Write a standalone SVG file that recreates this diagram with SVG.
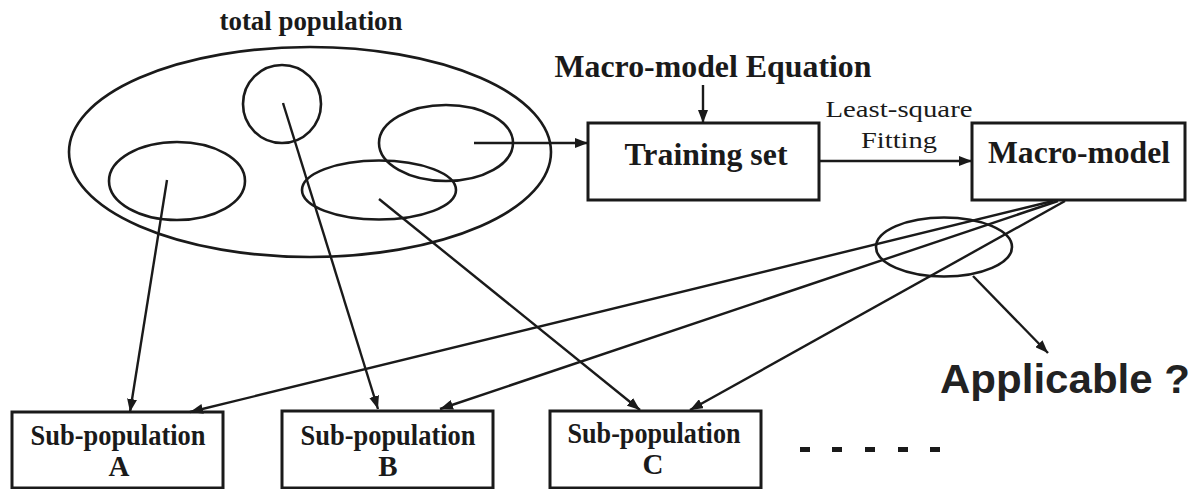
<svg xmlns="http://www.w3.org/2000/svg" width="1199" height="489" viewBox="0 0 1199 489">
<style>
.ser{font-family:"Liberation Serif","Times New Roman",serif;font-weight:bold;fill:#1a1a1a;text-anchor:middle}
.reg{font-family:"Liberation Serif","Times New Roman",serif;fill:#1a1a1a;text-anchor:middle}
.box{fill:#fff;stroke:#1a1a1a;stroke-width:3}
.ell{fill:none;stroke:#1a1a1a;stroke-width:2.6}
.con{fill:none;stroke:#1a1a1a;stroke-width:2.4;marker-end:url(#ah)}
</style>
<defs>
<marker id="ah" markerUnits="userSpaceOnUse" markerWidth="14" markerHeight="10" refX="13" refY="5" orient="auto">
<path d="M0,0 L13,5 L0,10 z" fill="#1a1a1a"/>
</marker>
</defs>
<rect width="1199" height="489" fill="#fff"/>

<g id="population">
<text class="ser" x="311" y="30" font-size="28" textLength="183" lengthAdjust="spacingAndGlyphs">total population</text>
<ellipse class="ell" cx="310" cy="152" rx="241" ry="105"/>
<ellipse class="ell" cx="282" cy="104" rx="39" ry="39"/>
<ellipse class="ell" cx="177" cy="181" rx="68" ry="39"/>
<ellipse class="ell" cx="446" cy="143" rx="67" ry="38"/>
<ellipse class="ell" cx="379" cy="190" rx="77" ry="29.5"/>
</g>

<g id="equation">
<text class="ser" x="713" y="77" font-size="32" textLength="317" lengthAdjust="spacingAndGlyphs">Macro-model Equation</text>
</g>

<g id="training">
<rect class="box" x="588" y="123" width="231" height="77"/>
<text class="ser" x="706" y="165" font-size="31" textLength="163" lengthAdjust="spacingAndGlyphs">Training set</text>
</g>

<g id="fitting-label">
<text class="reg" x="899" y="117" font-size="23" textLength="147" lengthAdjust="spacingAndGlyphs">Least-square</text>
<text class="reg" x="899" y="148" font-size="23" textLength="76" lengthAdjust="spacingAndGlyphs">Fitting</text>
</g>

<g id="macromodel">
<rect class="box" x="972" y="123" width="213" height="77"/>
<text class="ser" x="1079" y="163" font-size="32" textLength="182" lengthAdjust="spacingAndGlyphs">Macro-model</text>
</g>

<g id="applicable">
<ellipse class="ell" cx="944" cy="247" rx="68" ry="29.5"/>
<text x="940" y="393" font-family="'Liberation Sans',Arial,sans-serif" font-weight="bold" font-size="40" fill="#222" textLength="250" lengthAdjust="spacingAndGlyphs">Applicable ?</text>
</g>

<g id="subA">
<rect class="box" x="12" y="412" width="211" height="76"/>
<text class="ser" x="118" y="445" font-size="29" textLength="175" lengthAdjust="spacingAndGlyphs">Sub-population</text>
<text class="ser" x="119" y="476" font-size="29" fill="#22224a">A</text>
</g>

<g id="subB">
<rect class="box" x="282" y="411" width="211" height="77"/>
<text class="ser" x="388" y="445" font-size="29" textLength="175" lengthAdjust="spacingAndGlyphs">Sub-population</text>
<text class="ser" x="388" y="476" font-size="29">B</text>
</g>

<g id="subC">
<rect class="box" x="550" y="411" width="211" height="77"/>
<text class="ser" x="654" y="443" font-size="29" textLength="173" lengthAdjust="spacingAndGlyphs">Sub-population</text>
<text class="ser" x="653" y="474" font-size="29">C</text>
</g>

<g id="more" fill="#1a1a1a">
<rect x="800" y="447" width="10" height="5"/>
<rect x="832" y="447" width="10" height="5"/>
<rect x="865" y="447" width="10" height="5"/>
<rect x="898" y="447" width="10" height="5"/>
<rect x="930" y="447" width="10" height="5"/>
</g>

<g id="connectors">
<line class="con" x1="167" y1="180" x2="130" y2="412"/>
<line class="con" x1="283" y1="103" x2="378" y2="409"/>
<line class="con" x1="379" y1="199" x2="640" y2="410"/>
<line class="con" x1="474" y1="143" x2="588" y2="143"/>
<line class="con" x1="703" y1="85" x2="703" y2="123"/>
<line class="con" x1="819" y1="161" x2="972" y2="161"/>
<line class="con" x1="1053" y1="201" x2="190" y2="412"/>
<line class="con" x1="1058" y1="201" x2="440" y2="409"/>
<line class="con" x1="1065" y1="201" x2="690" y2="410"/>
<line class="con" x1="973" y1="276" x2="1048" y2="353"/>
</g>
</svg>
